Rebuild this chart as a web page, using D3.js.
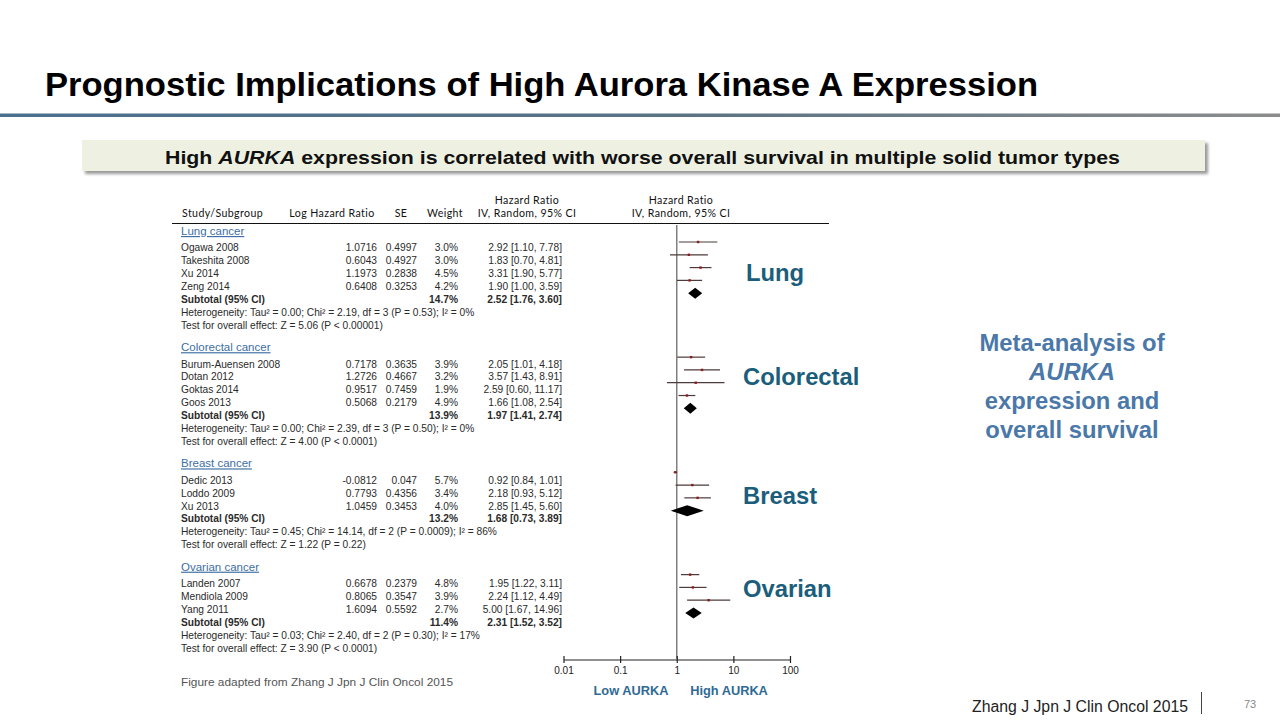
<!DOCTYPE html>
<html>
<head>
<meta charset="utf-8">
<script src="https://cdn.jsdelivr.net/npm/d3@7"></script>
<style>
  body { margin: 0; background: #fff; }
  svg { display: block; font-family: "Liberation Sans", Arial, sans-serif; }
</style>
</head>
<body>
<div id="slide"></div>
<script>
/* DATA */
const groupTitles = ["Lung cancer", "Colorectal cancer", "Breast cancer", "Ovarian cancer"];
const groupLabels = ["Lung", "Colorectal", "Breast", "Ovarian"];
const groupSizes = [4, 4, 3, 3];

const studyNames = ["Ogawa 2008", "Takeshita 2008", "Xu 2014", "Zeng 2014",
  "Burum-Auensen 2008", "Dotan 2012", "Goktas 2014", "Goos 2013",
  "Dedic 2013", "Loddo 2009", "Xu 2013",
  "Landen 2007", "Mendiola 2009", "Yang 2011"];
const logHR = ["1.0716", "0.6043", "1.1973", "0.6408",
  "0.7178", "1.2726", "0.9517", "0.5068",
  "-0.0812", "0.7793", "1.0459",
  "0.6678", "0.8065", "1.6094"];
const seValues = ["0.4997", "0.4927", "0.2838", "0.3253",
  "0.3635", "0.4667", "0.7459", "0.2179",
  "0.047", "0.4356", "0.3453",
  "0.2379", "0.3547", "0.5592"];
const weights = [3.0, 3.0, 4.5, 4.2, 3.9, 3.2, 1.9, 4.9, 5.7, 3.4, 4.0, 4.8, 3.9, 2.7];
const hr = [2.92, 1.83, 3.31, 1.90, 2.05, 3.57, 2.59, 1.66, 0.92, 2.18, 2.85, 1.95, 2.24, 5.00];
const hrLow = [1.10, 0.70, 1.90, 1.00, 1.01, 1.43, 0.60, 1.08, 0.84, 0.93, 1.45, 1.22, 1.12, 1.67];
const hrHigh = [7.78, 4.81, 5.77, 3.59, 4.18, 8.91, 11.17, 2.54, 1.01, 5.12, 5.60, 3.11, 4.49, 14.96];

const subWeights = [14.7, 13.9, 13.2, 11.4];
const subHR = [2.52, 1.97, 1.68, 2.31];
const subLow = [1.76, 1.41, 0.73, 1.52];
const subHigh = [3.60, 2.74, 3.89, 3.52];

const heterogeneity = [
  "Heterogeneity: Tau² = 0.00; Chi² = 2.19, df = 3 (P = 0.53); I² = 0%",
  "Heterogeneity: Tau² = 0.00; Chi² = 2.39, df = 3 (P = 0.50); I² = 0%",
  "Heterogeneity: Tau² = 0.45; Chi² = 14.14, df = 2 (P = 0.0009); I² = 86%",
  "Heterogeneity: Tau² = 0.03; Chi² = 2.40, df = 2 (P = 0.30); I² = 17%"];
const overallTests = [
  "Test for overall effect: Z = 5.06 (P < 0.00001)",
  "Test for overall effect: Z = 4.00 (P < 0.0001)",
  "Test for overall effect: Z = 1.22 (P = 0.22)",
  "Test for overall effect: Z = 3.90 (P < 0.0001)"];

const axisTicks = [0.01, 0.1, 1, 10, 100];

/* SCALES */
const rowY = d3.scaleLinear().domain([0, 32.3]).range([231, 648]);
// the plotted marks in the source figure sit slightly higher than the table rows
const markY = d3.scaleLinear().domain([1.3, 30.3]).range([242, 613]);
const axisX = d3.scaleLog().domain([0.01, 100]).range([563.5, 790]);
const markX = d3.scaleLog().domain([0.01, 100]).range([586.4, 767.6]);

const fmt2 = d3.format(".2f");
const ci = (h, l, u) => `${fmt2(h)} [${fmt2(l)}, ${fmt2(u)}]`;

/* BUILD ROW LIST */
function buildRows() {
  const rows = [];
  let start = 0, offset = 0;
  groupSizes.forEach((n, g) => {
    rows.push({ type: "title", g, idx: start });
    for (let j = 0; j < n; j++) {
      rows.push({ type: "study", g, i: offset + j, idx: start + 1.3 + j });
    }
    rows.push({ type: "subtotal", g, idx: start + 1.3 + n });
    rows.push({ type: "het", g, idx: start + 2.3 + n });
    rows.push({ type: "test", g, idx: start + 3.3 + n });
    offset += n;
    start += n + 5;
  });
  return rows;
}
const rows = buildRows();

/* SVG */
const svg = d3.select("#slide").append("svg")
  .attr("width", 1280).attr("height", 720);

const defs = svg.append("defs");
const grad = defs.append("linearGradient").attr("id", "rule");
grad.append("stop").attr("offset", "0%").attr("stop-color", "#4a6f8f");
grad.append("stop").attr("offset", "55%").attr("stop-color", "#5b7384");
grad.append("stop").attr("offset", "100%").attr("stop-color", "#8c8c8c");
defs.append("filter").attr("id", "blur").append("feGaussianBlur").attr("stdDeviation", 1.5);

/* HEADER */
svg.append("text")
  .attr("x", 45).attr("y", 96)
  .attr("textLength", 993).attr("lengthAdjust", "spacingAndGlyphs")
  .style("font-size", "33px").style("font-weight", "bold").attr("fill", "#000")
  .text("Prognostic Implications of High Aurora Kinase A Expression");

svg.append("rect").attr("x", 0).attr("y", 113.5).attr("width", 1280).attr("height", 3.5)
  .attr("fill", "url(#rule)");

svg.append("rect").attr("x", 85).attr("y", 143).attr("width", 1123).attr("height", 31)
  .attr("fill", "#9a9a9a").attr("filter", "url(#blur)");
svg.append("rect").attr("x", 82).attr("y", 140).attr("width", 1123).attr("height", 31)
  .attr("fill", "#eef1e2");

const banner = svg.append("text")
  .attr("x", 165).attr("y", 163.5)
  .attr("textLength", 955).attr("lengthAdjust", "spacingAndGlyphs")
  .style("font-size", "19px").style("font-weight", "bold").attr("fill", "#111");
banner.append("tspan").text("High ");
banner.append("tspan").style("font-style", "italic").text("AURKA");
banner.append("tspan").text(" expression is correlated with worse overall survival in multiple solid tumor types");

/* TABLE HEADER */
const headFont = "Lato, 'Open Sans', sans-serif";
const head = svg.append("g").style("font-family", headFont).style("font-size", "10.6px")
  .style("letter-spacing", "0.4px").attr("fill", "#111");
head.append("text").attr("x", 182).attr("y", 217).text("Study/Subgroup");
head.append("text").attr("x", 332).attr("y", 217).attr("text-anchor", "middle").text("Log Hazard Ratio");
head.append("text").attr("x", 401).attr("y", 217).attr("text-anchor", "middle").text("SE");
head.append("text").attr("x", 445).attr("y", 217).attr("text-anchor", "middle").text("Weight");
[527, 681].forEach((cx) => {
  head.append("text").attr("x", cx).attr("y", 204).attr("text-anchor", "middle").text("Hazard Ratio");
  head.append("text").attr("x", cx).attr("y", 217).attr("text-anchor", "middle").text("IV, Random, 95% CI");
});
svg.append("line").attr("x1", 172).attr("x2", 829).attr("y1", 223.5).attr("y2", 223.5)
  .attr("stroke", "#111").attr("stroke-width", 1);

/* TABLE ROWS */
const table = svg.append("g").style("font-size", "10.2px").attr("fill", "#2a2a2a");

rows.forEach((r) => {
  const y = rowY(r.idx);
  const line = (x, txt, anchor, bold) => table.append("text")
    .attr("x", x).attr("y", y).attr("dy", "0.35em")
    .attr("text-anchor", anchor || "start")
    .style("font-weight", bold ? "bold" : "normal")
    .text(txt);

  if (r.type === "title") {
    table.append("text").attr("x", 181).attr("y", y).attr("dy", "0.35em")
      .style("font-size", "11.5px").style("text-decoration", "underline")
      .attr("fill", "#3d6ea3").text(groupTitles[r.g]);
  } else if (r.type === "study") {
    line(181, studyNames[r.i]);
    line(377, logHR[r.i], "end");
    line(417, seValues[r.i], "end");
    line(458, weights[r.i].toFixed(1) + "%", "end");
    line(562, ci(hr[r.i], hrLow[r.i], hrHigh[r.i]), "end");
  } else if (r.type === "subtotal") {
    line(181, "Subtotal (95% CI)", "start", true);
    line(458, subWeights[r.g].toFixed(1) + "%", "end", true);
    line(562, ci(subHR[r.g], subLow[r.g], subHigh[r.g]), "end", true);
  } else if (r.type === "het") {
    line(181, heterogeneity[r.g]);
  } else {
    line(181, overallTests[r.g]);
  }
});

/* FOREST PLOT */
const plot = svg.append("g");
plot.append("line")
  .attr("x1", axisX(1)).attr("x2", axisX(1)).attr("y1", 225).attr("y2", 659)
  .attr("stroke", "#808080").attr("stroke-width", 1.5);

const studyRows = rows.filter((r) => r.type === "study");
plot.selectAll(".ci").data(studyRows).enter().append("line")
  .attr("x1", (r) => markX(hrLow[r.i])).attr("x2", (r) => markX(hrHigh[r.i]))
  .attr("y1", (r) => markY(r.idx)).attr("y2", (r) => markY(r.idx))
  .attr("stroke", "#4d3a3a").attr("stroke-width", 1.2);
plot.selectAll(".pt").data(studyRows).enter().append("rect")
  .attr("x", (r) => markX(hr[r.i]) - 1.2).attr("y", (r) => markY(r.idx) - 1.2)
  .attr("width", 2.4).attr("height", 2.4).attr("fill", "#8b1c1c");

const subRows = rows.filter((r) => r.type === "subtotal");
plot.selectAll(".diamond").data(subRows).enter().append("path")
  .attr("d", (r) => {
    const y = markY(r.idx);
    return `M${markX(subLow[r.g])},${y}L${markX(subHR[r.g])},${y - 5.5}` +
      `L${markX(subHigh[r.g])},${y}L${markX(subHR[r.g])},${y + 5.5}Z`;
  })
  .attr("fill", "#000");

/* AXIS */
const axis = plot.append("g").attr("transform", "translate(0,659.5)")
  .call(d3.axisBottom(axisX).tickValues(axisTicks).tickFormat((d) => String(d))
    .tickSizeOuter(0).tickSizeInner(4));
axis.select(".domain").attr("stroke", "#222").attr("stroke-width", 1.2);
axis.selectAll(".tick line").attr("y1", -3.5).attr("y2", 3.5).attr("stroke", "#222").attr("stroke-width", 1.2);
axis.selectAll(".tick text").attr("y", 7).style("font-size", "10px")
  .style("font-family", "'Liberation Sans', Arial, sans-serif").attr("fill", "#222");

svg.append("text").attr("x", 631).attr("y", 694.5).attr("text-anchor", "middle")
  .style("font-size", "12.8px").style("font-weight", "bold").attr("fill", "#2f6a94").text("Low AURKA");
svg.append("text").attr("x", 729).attr("y", 694.5).attr("text-anchor", "middle")
  .style("font-size", "12.8px").style("font-weight", "bold").attr("fill", "#2f6a94").text("High AURKA");

/* GROUP LABELS */
const labelPos = [[746, 273], [743, 377], [743, 496], [743, 589]];
groupLabels.forEach((name, g) => {
  svg.append("text").attr("x", labelPos[g][0]).attr("y", labelPos[g][1]).attr("dy", "0.35em")
    .style("font-size", "23.8px").style("font-weight", "bold").attr("fill", "#1b5e7b").text(name);
});

/* SIDE NOTE */
const note = svg.append("g").attr("text-anchor", "middle")
  .style("font-size", "23.8px").style("font-weight", "bold").attr("fill", "#4a78a8");
note.append("text").attr("x", 1072).attr("y", 351).text("Meta-analysis of");
note.append("text").attr("x", 1072).attr("y", 380).style("font-style", "italic").text("AURKA");
note.append("text").attr("x", 1072).attr("y", 409).text("expression and");
note.append("text").attr("x", 1072).attr("y", 438).text("overall survival");

/* FOOTERS */
svg.append("text").attr("x", 181).attr("y", 686)
  .attr("textLength", 272).attr("lengthAdjust", "spacingAndGlyphs")
  .style("font-size", "11.6px").attr("fill", "#555")
  .text("Figure adapted from Zhang J Jpn J Clin Oncol 2015");
svg.append("text").attr("x", 1188).attr("y", 712).attr("text-anchor", "end")
  .style("font-size", "15.8px").attr("fill", "#222").text("Zhang J Jpn J Clin Oncol 2015");
svg.append("line").attr("x1", 1201.5).attr("x2", 1201.5).attr("y1", 692).attr("y2", 714)
  .attr("stroke", "#444").attr("stroke-width", 1);
svg.append("text").attr("x", 1250).attr("y", 708).attr("text-anchor", "middle")
  .style("font-size", "11px").attr("fill", "#888").text("73");
</script>
</body>
</html>
